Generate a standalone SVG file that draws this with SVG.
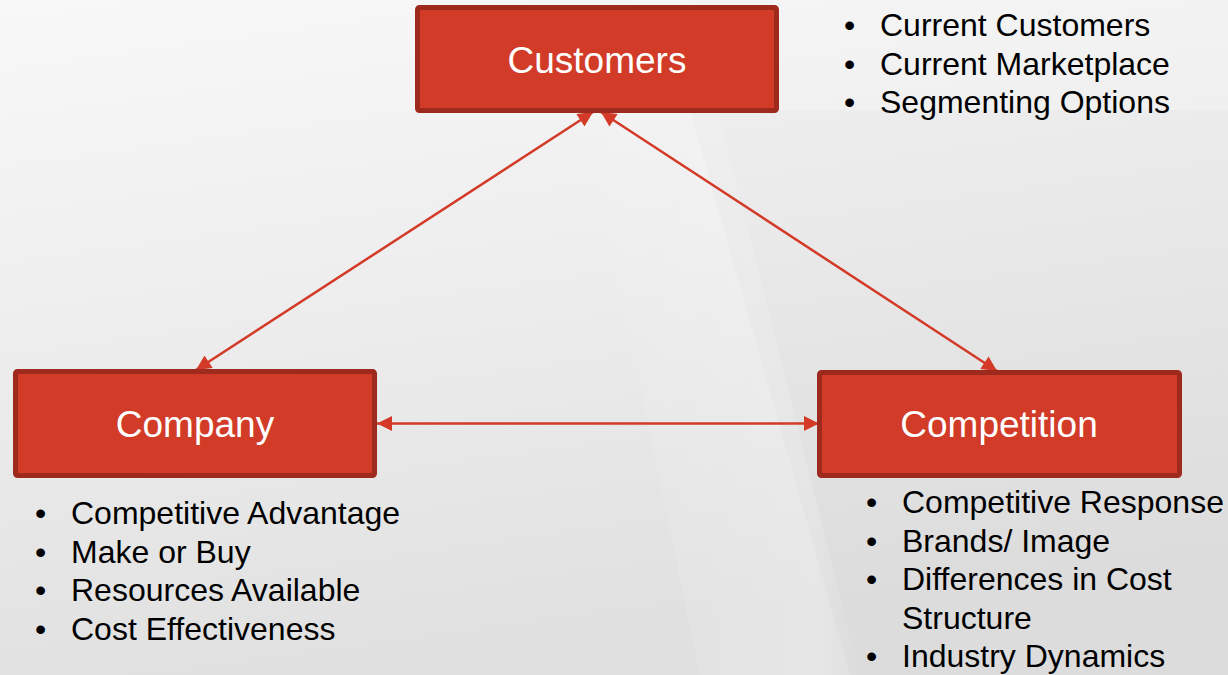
<svg xmlns="http://www.w3.org/2000/svg" width="1228" height="675" viewBox="0 0 1228 675">
<defs>
<linearGradient id="bg" x1="0" y1="0" x2="0.25" y2="1">
<stop offset="0" stop-color="#f8f8f8"/>
<stop offset="0.45" stop-color="#eeeeee"/>
<stop offset="1" stop-color="#e0e0e0"/>
</linearGradient>
<linearGradient id="band" x1="0" y1="0" x2="1" y2="0">
<stop offset="0" stop-color="#ffffff" stop-opacity="0"/>
<stop offset="0.85" stop-color="#ffffff" stop-opacity="0.2"/>
<stop offset="1" stop-color="#ffffff" stop-opacity="0"/>
</linearGradient>
<marker id="ah" viewBox="0 0 10 10" refX="10" refY="5" markerWidth="6.5" markerHeight="6" markerUnits="strokeWidth" orient="auto-start-reverse">
<path d="M0,0 L10,5 L0,10 z" fill="#d33a28"/>
</marker>
<style>
.box{fill:#d13b27;stroke:#9e2a1e;stroke-width:5}
.lbl{font-family:"Liberation Sans",Arial,sans-serif;font-size:37px;fill:#ffffff;text-anchor:middle}
.bul{font-family:"Liberation Sans",Arial,sans-serif;font-size:32px;fill:#000000}
.con{stroke:#d33a28;stroke-width:2.5;fill:none;marker-start:url(#ah);marker-end:url(#ah)}
</style>
</defs>
<rect width="1228" height="675" fill="url(#bg)"/>
<polygon points="560,0 690,0 860,675 700,675" fill="url(#band)"/>
<polygon points="690,110 1228,110 1228,675 850,675" fill="#000000" fill-opacity="0.015"/>

<g id="connectors">
<line class="con" x1="593" y1="112" x2="196" y2="370"/>
<line class="con" x1="601" y1="112" x2="997" y2="371"/>
<line class="con" x1="377" y1="423.5" x2="819" y2="423.5"/>
</g>

<g id="customers">
<rect class="box" x="417.5" y="7.5" width="359" height="103" rx="2"/>
<text class="lbl" x="597" y="73">Customers</text>
</g>
<g id="company">
<rect class="box" x="15.5" y="371.5" width="359" height="104" rx="2"/>
<text class="lbl" x="195" y="437">Company</text>
</g>
<g id="competition">
<rect class="box" x="819.5" y="372.5" width="360" height="103" rx="2"/>
<text class="lbl" x="999" y="437">Competition</text>
</g>

<g id="customers-notes" class="bul">
<text x="844" y="36">•</text><text x="880" y="36">Current Customers</text>
<text x="844" y="74.5">•</text><text x="880" y="74.5">Current Marketplace</text>
<text x="844" y="113">•</text><text x="880" y="113">Segmenting Options</text>
</g>
<g id="company-notes" class="bul">
<text x="35" y="524">•</text><text x="71" y="524">Competitive Advantage</text>
<text x="35" y="562.5">•</text><text x="71" y="562.5">Make or Buy</text>
<text x="35" y="601">•</text><text x="71" y="601">Resources Available</text>
<text x="35" y="639.5">•</text><text x="71" y="639.5">Cost Effectiveness</text>
</g>
<g id="competition-notes" class="bul">
<text x="866" y="513">•</text><text x="902" y="513">Competitive Response</text>
<text x="866" y="551.5">•</text><text x="902" y="551.5">Brands/ Image</text>
<text x="866" y="590">•</text><text x="902" y="590">Differences in Cost</text>
<text x="902" y="628.5">Structure</text>
<text x="866" y="667">•</text><text x="902" y="667">Industry Dynamics</text>
</g>
</svg>
